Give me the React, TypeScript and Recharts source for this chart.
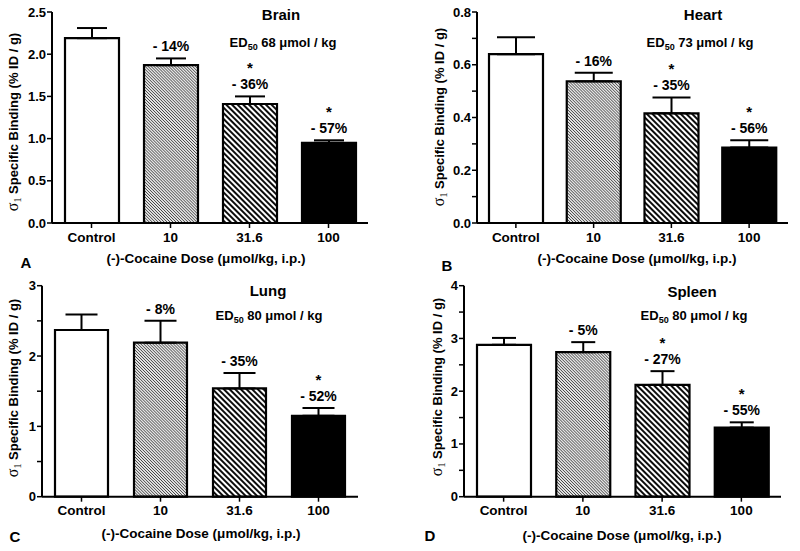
import React from "react";
import { BarChart, Bar, XAxis, YAxis, ErrorBar, Cell, LabelList } from "recharts";

// dose groups on the x axis
const doses = ["Control", "10", "31.6", "100"];

// brain
const brainMean = [2.19, 1.87, 1.41, 0.95];
const brainSem = [0.12, 0.08, 0.09, 0.03];
const brainChange = ["", "- 14%", "- 36%", "- 57%"];
const brainSig = [false, false, true, true];
const brainTicks = [0, 0.5, 1, 1.5, 2, 2.5];
const brainLabeled = [0, 0.5, 1, 1.5, 2, 2.5];

// heart
const heartMean = [0.64, 0.537, 0.416, 0.286];
const heartSem = [0.064, 0.033, 0.06, 0.028];
const heartChange = ["", "- 16%", "- 35%", "- 56%"];
const heartSig = [false, false, true, true];
const heartTicks = [0, 0.1, 0.2, 0.3, 0.4, 0.5, 0.6, 0.7, 0.8];
const heartLabeled = [0, 0.2, 0.4, 0.6, 0.8];

// lung
const lungMean = [2.37, 2.19, 1.54, 1.15];
const lungSem = [0.22, 0.31, 0.22, 0.11];
const lungChange = ["", "- 8%", "- 35%", "- 52%"];
const lungSig = [false, false, false, true];
const lungTicks = [0, 0.5, 1, 1.5, 2, 2.5, 3];
const lungLabeled = [0, 1, 2, 3];

// spleen
const spleenMean = [2.88, 2.74, 2.12, 1.31];
const spleenSem = [0.13, 0.19, 0.26, 0.1];
const spleenChange = ["", "- 5%", "- 27%", "- 55%"];
const spleenSig = [false, false, true, true];
const spleenTicks = [0, 0.5, 1, 1.5, 2, 2.5, 3, 3.5, 4];
const spleenLabeled = [0, 1, 2, 3, 4];

const FONT = "'Liberation Sans', Arial, Helvetica, sans-serif";
const SERIF = "'Liberation Serif', 'Times New Roman', serif";
const fills = ["#ffffff", "url(#hatchFine)", "url(#hatchWide)", "#000000"];

type Box = {
  left: number; top: number; W: number; H: number;
  plotLeft: number; plotRight: number; plotTop: number; plotBottom: number;
  barSize: number; cap: number;
  title: [number, number]; ed: [number, number]; yLab: [number, number];
  letterPos: [number, number]; xTitle: [number, number];
};

type PanelProps = {
  organ: string; ed50: string; letter: string;
  mean: number[]; sem: number[]; change: string[]; sig: boolean[];
  ticks: number[]; labeled: number[]; decimals: number;
  box: Box;
};

function Panel({ organ, ed50, letter, mean, sem, change, sig, ticks, labeled, decimals, box }: PanelProps) {
  const rows = doses.map((dose, i) => ({ dose, mean: mean[i], err: [0, sem[i]] }));
  const max = ticks[ticks.length - 1];

  // percent change (and asterisk above it) over the error bar
  const renderNote = (p: any) => {
    const i = p.index;
    if (!change[i]) return null;
    const x = Number(p.x) + Number(p.width) / 2;
    const scale = Number(p.height) / mean[i];
    const errTop = Number(p.y) - sem[i] * scale;
    const base = errTop - 7;
    return (
      <g key={`note-${i}`}>
        <text x={x} y={base} textAnchor="middle" fontFamily={FONT} fontWeight="bold" fontSize={14} fill="#000">
          {change[i]}
        </text>
        {sig[i] && (
          <text x={x} y={base - 16} textAnchor="middle" fontFamily={FONT} fontWeight="bold" fontSize={15} fill="#000">
            *
          </text>
        )}
      </g>
    );
  };

  return (
    <div style={{ position: "absolute", left: box.left, top: box.top, width: box.W, height: box.H }}>
      <BarChart
        width={box.W}
        height={box.H}
        data={rows}
        barSize={box.barSize}
        margin={{ top: box.plotTop, right: box.W - box.plotRight, bottom: 0, left: 0 }}
      >
        <XAxis
          dataKey="dose"
          height={box.H - box.plotBottom}
          interval={0}
          axisLine={{ stroke: "#000", strokeWidth: 2 }}
          tickLine={{ stroke: "#000", strokeWidth: 1.5 }}
          tickSize={5}
          tickMargin={4}
          tick={(p: any) => (
            <text x={p.x} y={p.y} dy="0.71em" textAnchor="middle" fontFamily={FONT} fontWeight="bold" fontSize={13.5} fill="#000">
              {p.payload.value}
            </text>
          )}
        />
        <YAxis
          width={box.plotLeft}
          domain={[0, max]}
          ticks={ticks}
          interval={0}
          axisLine={{ stroke: "#000", strokeWidth: 2 }}
          tickLine={{ stroke: "#000", strokeWidth: 1.5 }}
          tickSize={5}
          tickMargin={1}
          tick={(p: any) =>
            labeled.includes(p.payload.value) ? (
              <text x={p.x} y={p.y} dy={4.5} textAnchor="end" fontFamily={FONT} fontWeight="bold" fontSize={13} fill="#000">
                {Number(p.payload.value).toFixed(decimals)}
              </text>
            ) : (
              <g />
            )
          }
        />
        <Bar dataKey="mean" stroke="#000" strokeWidth={2.2} isAnimationActive={false}>
          {rows.map((r, i) => (
            <Cell key={r.dose} fill={fills[i]} />
          ))}
          <ErrorBar dataKey="err" direction="y" width={box.cap} stroke="#000" strokeWidth={2} isAnimationActive={false} />
          <LabelList dataKey="mean" content={renderNote} />
        </Bar>
      </BarChart>
      <svg
        width={box.W}
        height={box.H}
        style={{ position: "absolute", left: 0, top: 0, pointerEvents: "none", overflow: "visible" }}
      >
        <text x={box.title[0]} y={box.title[1] + 5} textAnchor="middle" fontFamily={FONT} fontWeight="bold" fontSize={15}>
          {organ}
        </text>
        <text x={box.ed[0]} y={box.ed[1] + 4.5} textAnchor="middle" fontFamily={FONT} fontWeight="bold" fontSize={13}>
          ED<tspan fontSize={9} dy={3}>50</tspan>
          <tspan dy={-3}>{` ${ed50} μmol / kg`}</tspan>
        </text>
        <text
          transform={`translate(${box.yLab[0]},${box.yLab[1]}) rotate(-90)`}
          textAnchor="middle"
          dy={4.5}
          fontFamily={FONT}
          fontWeight="bold"
          fontSize={13}
        >
          <tspan fontFamily={SERIF} fontWeight="normal" fontSize={16}>σ</tspan>
          <tspan fontFamily={SERIF} fontWeight="normal" fontSize={10} dy={3}>1</tspan>
          <tspan dy={-3}> Specific Binding (% ID / g)</tspan>
        </text>
        <text x={box.xTitle[0]} y={box.xTitle[1] + 5} textAnchor="middle" fontFamily={FONT} fontWeight="bold" fontSize={13.5}>
          (-)-Cocaine Dose (μmol/kg, i.p.)
        </text>
        <text x={box.letterPos[0]} y={box.letterPos[1] + 5.5} textAnchor="middle" fontFamily={FONT} fontWeight="bold" fontSize={15}>
          {letter}
        </text>
      </svg>
    </div>
  );
}

const boxA: Box = {
  left: 0, top: 0, W: 400, H: 275,
  plotLeft: 52, plotRight: 368, plotTop: 12, plotBottom: 223,
  barSize: 54, cap: 15,
  title: [281, 15], ed: [283, 42], yLab: [13, 122], letterPos: [26, 262], xTitle: [206, 258],
};
const boxB: Box = {
  left: 400, top: 0, W: 400, H: 275,
  plotLeft: 77, plotRight: 388, plotTop: 12, plotBottom: 223,
  barSize: 54, cap: 19,
  title: [303, 15], ed: [300, 42], yLab: [39, 117], letterPos: [47, 265], xTitle: [237, 258],
};
const boxC: Box = {
  left: 0, top: 270, W: 400, H: 281,
  plotLeft: 42, plotRight: 358, plotTop: 15.7, plotBottom: 226.7,
  barSize: 53, cap: 16,
  title: [268, 20.7], ed: [269, 45.7], yLab: [13, 118], letterPos: [15, 266.7], xTitle: [201, 263.3],
};
const boxD: Box = {
  left: 400, top: 270, W: 400, H: 281,
  plotLeft: 64, plotRight: 381, plotTop: 15.7, plotBottom: 226.7,
  barSize: 54, cap: 12,
  title: [292, 21.7], ed: [294, 45.7], yLab: [37, 117], letterPos: [30, 265], xTitle: [222, 265],
};

export default function App() {
  return (
    <div style={{ position: "absolute", left: 0, top: 0, width: 800, height: 551, background: "#fff", overflow: "hidden" }}>
      <svg width={0} height={0} style={{ position: "absolute" }}>
        <defs>
          <pattern id="hatchFine" patternUnits="userSpaceOnUse" width={2.1} height={2.1} patternTransform="rotate(-45)">
            <rect width={2.1} height={2.1} fill="#fff" />
            <line x1={1.05} y1={0} x2={1.05} y2={2.1} stroke="#444" strokeWidth={0.9} />
          </pattern>
          <pattern id="hatchWide" patternUnits="userSpaceOnUse" width={4} height={4} patternTransform="rotate(-45)">
            <rect width={4} height={4} fill="#fff" />
            <line x1={2} y1={0} x2={2} y2={4} stroke="#000" strokeWidth={1.9} />
          </pattern>
        </defs>
      </svg>
      <Panel organ="Brain" ed50="68" letter="A" mean={brainMean} sem={brainSem} change={brainChange} sig={brainSig}
        ticks={brainTicks} labeled={brainLabeled} decimals={1} box={boxA} />
      <Panel organ="Heart" ed50="73" letter="B" mean={heartMean} sem={heartSem} change={heartChange} sig={heartSig}
        ticks={heartTicks} labeled={heartLabeled} decimals={1} box={boxB} />
      <Panel organ="Lung" ed50="80" letter="C" mean={lungMean} sem={lungSem} change={lungChange} sig={lungSig}
        ticks={lungTicks} labeled={lungLabeled} decimals={0} box={boxC} />
      <Panel organ="Spleen" ed50="80" letter="D" mean={spleenMean} sem={spleenSem} change={spleenChange} sig={spleenSig}
        ticks={spleenTicks} labeled={spleenLabeled} decimals={0} box={boxD} />
    </div>
  );
}
